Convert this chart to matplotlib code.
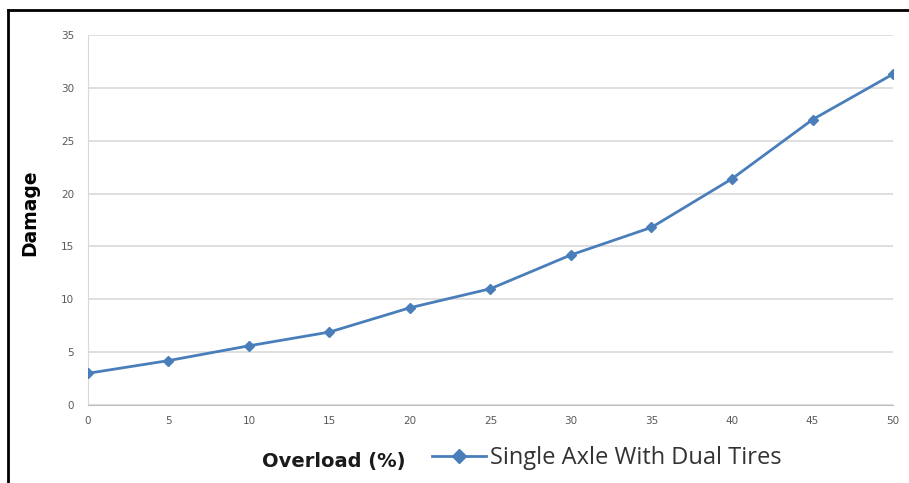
import matplotlib
matplotlib.use('Agg')
import matplotlib.pyplot as plt
from matplotlib.lines import Line2D

# data
overload = [0, 5, 10, 15, 20, 25, 30, 35, 40, 45, 50]
damage = [3.0, 4.2, 5.6, 6.9, 9.2, 11.0, 14.2, 16.8, 21.4, 27.0, 31.3]
series_name = 'Single Axle With Dual Tires'
x_ticks = list(range(0, 51, 5))
y_ticks = list(range(0, 36, 5))

blue = '#4a7ebb'

fig = plt.figure(figsize=(9.09, 4.83), dpi=100)
ax = fig.add_axes([0.0968, 0.1615, 0.8856, 0.766])

ax.plot(overload, damage, color=blue, lw=2, marker='D', ms=5.5,
        markerfacecolor=blue, markeredgecolor=blue, zorder=3)

ax.set_xlim(0, 50)
ax.set_ylim(0, 35)
ax.set_xticks(x_ticks)
ax.set_yticks(y_ticks)
ax.grid(axis='y', color='#d9d9d9', lw=1.2)
ax.set_axisbelow(True)
for s in ['top', 'right']:
    ax.spines[s].set_visible(False)
ax.spines['left'].set_color('#d9d9d9')
ax.spines['bottom'].set_color('#bfbfbf')
ax.tick_params(axis='both', length=0, labelsize=7.5, labelcolor='#595959')
ax.tick_params(axis='x', pad=8)
ax.tick_params(axis='y', pad=10)

# labels
fig.text(30 / 909, 1 - 213 / 483, 'Damage', rotation=90, ha='center', va='center',
         fontsize=13.5, fontweight='bold', family='DejaVu Sans')
fig.text(334 / 909, 1 - 461 / 483, 'Overload (%)', ha='center', va='center',
         fontsize=14, fontweight='bold', family='DejaVu Sans', color='#1a1a1a')

handle = Line2D([], [], color=blue, lw=2, marker='D', ms=7,
                markerfacecolor=blue, markeredgecolor=blue)
leg = fig.legend([handle], [series_name], loc='center left',
                 bbox_to_anchor=(420 / 909, 1 - 458 / 483), frameon=False,
                 handlelength=2.3, handletextpad=0.15, borderpad=0,
                 prop={'family': 'Open Sans', 'size': 17})
for t in leg.get_texts():
    t.set_color('#333333')

# the black frame (cut off at right and bottom)
fig.add_artist(Line2D([8 / 909, 8 / 909], [0, 1 - 10 / 483], transform=fig.transFigure,
                      color='black', lw=2))
fig.add_artist(Line2D([8 / 909, 1], [1 - 10 / 483, 1 - 10 / 483], transform=fig.transFigure,
                      color='black', lw=2))

plt.savefig('out.png', dpi=100)
